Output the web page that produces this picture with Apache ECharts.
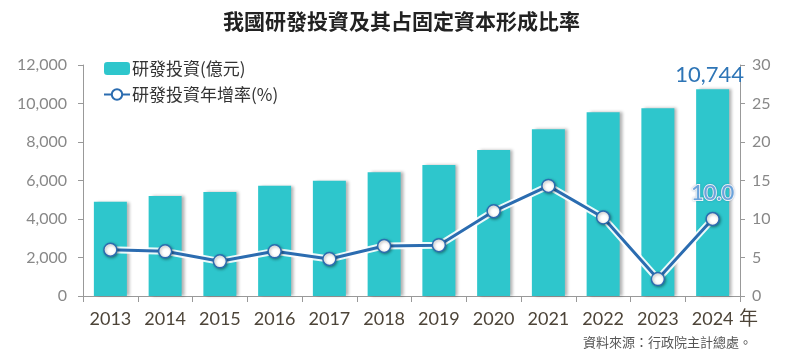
<!DOCTYPE html>
<html>
<head>
<meta charset="utf-8">
<script src="https://cdn.jsdelivr.net/npm/echarts@6/dist/echarts.min.js"></script>
<style>html,body{margin:0;padding:0;background:#fff}#c{width:800px;height:355px}</style>
</head>
<body>
<div id="c"></div>
<script>
var years = ['2013','2014','2015','2016','2017','2018','2019','2020','2021','2022','2023','2024'];
var rdInvestment = [4900, 5190, 5400, 5730, 5990, 6430, 6800, 7580, 8660, 9540, 9750, 10744];
var rdGrowth = [6.0, 5.8, 4.5, 5.8, 4.8, 6.5, 6.6, 11.0, 14.3, 10.2, 2.2, 10.0];
var leftTicks = [0, 12000, 2000];
var rightTicks = [0, 30, 5];

var CJK = '"Noto Sans CJK TC", sans-serif';
var NUM = 'Lato, "Noto Sans CJK TC", sans-serif';
var last = years.length - 1;

var barData = rdInvestment.map(function (v, i) {
  if (i !== last) return v;
  return {value: v, label: {show: true, position: 'top', distance: 3, offset: [-3, 0],
    formatter: function (p) { return p.value.toLocaleString('en-US'); },
    fontFamily: NUM, fontSize: 22, color: '#2e75b6'}};
});
var lineData = rdGrowth.map(function (v, i) {
  if (i !== last) return v;
  return {value: v, label: {show: true, position: 'top', distance: 8,
    formatter: function (p) { return p.value.toFixed(1); },
    fontFamily: NUM, fontSize: 22, color: '#6aa3dc', textBorderColor: '#fff', textBorderWidth: 2,
    textShadowColor: 'rgba(40,80,140,0.35)', textShadowBlur: 2}};
});

var chart = echarts.init(document.getElementById('c'));
chart.setOption({
  animation: false,
  title: {text: '我國研發投資及其占固定資本形成比率', left: 218, top: 6,
    textStyle: {fontFamily: CJK, fontSize: 21, fontWeight: 'bold', color: '#222'}},
  legend: {orient: 'vertical', left: 98, top: 55, itemGap: 9, itemWidth: 26, itemHeight: 13,
    data: ['研發投資(億元)', '研發投資年增率(%)'],
    textStyle: {fontFamily: CJK, fontSize: 17, color: '#333', padding: [0, 0, 0, -3]}},
  grid: {left: 83, right: 60, top: 65, bottom: 59},
  xAxis: {type: 'category', data: years,
    axisLine: {lineStyle: {color: '#999', width: 1}},
    axisTick: {show: true, length: 6, lineStyle: {color: '#999'}},
    axisLabel: {interval: 0, fontFamily: NUM, fontSize: 18, color: '#4d4438', margin: 14}},
  yAxis: [
    {type: 'value', min: leftTicks[0], max: leftTicks[1], interval: leftTicks[2],
      splitLine: {show: false},
      axisLine: {show: true, lineStyle: {color: '#999'}},
      axisTick: {show: true, length: 5, lineStyle: {color: '#999'}},
      axisLabel: {fontFamily: NUM, fontSize: 16, color: '#888', margin: 16,
        formatter: function (v) { return v.toLocaleString('en-US'); }}},
    {type: 'value', min: rightTicks[0], max: rightTicks[1], interval: rightTicks[2],
      splitLine: {show: false},
      axisLine: {show: true, lineStyle: {color: '#999'}},
      axisTick: {show: true, length: 5, lineStyle: {color: '#999'}},
      axisLabel: {fontFamily: NUM, fontSize: 16, color: '#888', margin: 12}}
  ],
  series: [
    {name: '研發投資(億元)', type: 'bar', data: barData, barWidth: 33,
      itemStyle: {color: '#2ec6cc', shadowColor: 'rgba(0,0,0,0.3)', shadowBlur: 3, shadowOffsetX: 3, shadowOffsetY: 0}},
    {name: 'halo', type: 'line', yAxisIndex: 1, data: rdGrowth, symbol: 'none', silent: true,
      lineStyle: {color: '#ffffff', width: 7, opacity: 0.9}, z: 3},
    {name: '研發投資年增率(%)', type: 'line', yAxisIndex: 1, data: lineData, z: 4,
      symbol: 'circle', symbolSize: 13,
      lineStyle: {color: '#2b6cb0', width: 3},
      itemStyle: {color: '#ffffff', borderColor: '#2b6cb0', borderWidth: 1.5,
        shadowColor: 'rgba(0,0,0,0.35)', shadowBlur: 3, shadowOffsetX: 1, shadowOffsetY: 1}}
  ],
  graphic: [
    {type: 'text', left: 739, top: 308, style: {text: '年', font: '19px "Noto Sans CJK TC"', fill: '#4d4438'}},
    {type: 'text', right: 48, top: 336, style: {text: '資料來源：行政院主計總處。', font: '13px "Noto Sans CJK TC"', fill: '#555'}}
  ]
});
</script>
</body>
</html>
